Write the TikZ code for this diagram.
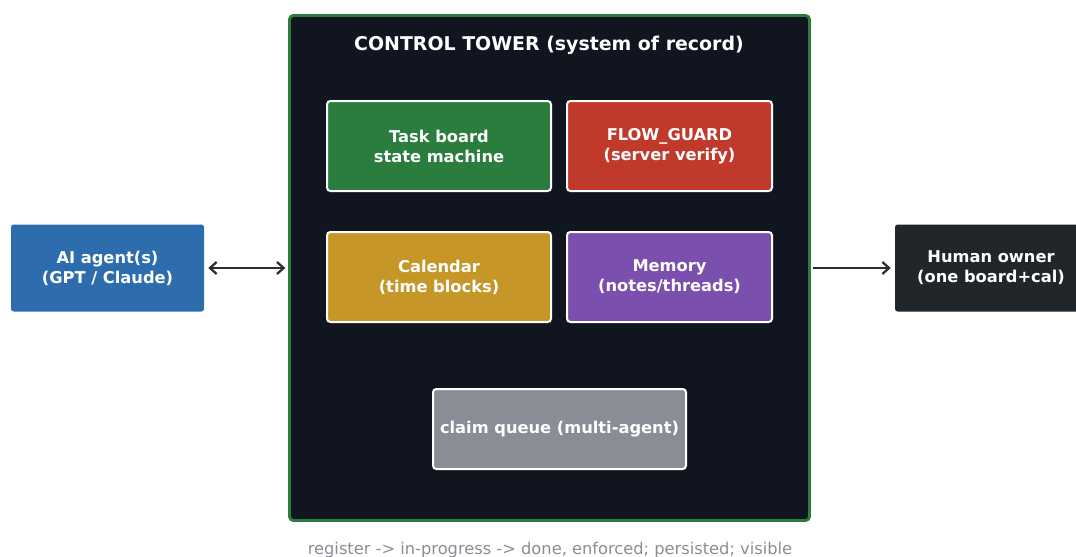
\documentclass[tikz,border=0pt]{standalone}
\usepackage{fontspec}
\setmainfont{DejaVu Sans}
\usetikzlibrary{arrows.meta}
\definecolor{towerfill}{HTML}{111520}
\definecolor{towergreen}{HTML}{2A7D3B}
\definecolor{taskgreen}{HTML}{2A7D3C}
\definecolor{flowred}{HTML}{C0392B}
\definecolor{calgold}{HTML}{C79628}
\definecolor{mempurple}{HTML}{7B4FAE}
\definecolor{claimgray}{HTML}{8A8D96}
\definecolor{aiblue}{HTML}{2E6DAD}
\definecolor{humandark}{HTML}{21262B}
\definecolor{arrowdark}{HTML}{2B2F33}
\definecolor{notegray}{HTML}{8A8D93}
\tikzset{
  inner/.style={draw=white, line width=1.5pt, rounded corners=2.5pt, text=white,
    font=\bfseries\fontsize{12.2pt}{15pt}\selectfont, align=center, inner sep=0pt},
  outer/.style={rounded corners=2pt, text=white,
    font=\bfseries\fontsize{12.2pt}{15pt}\selectfont, align=center, inner sep=0pt},
  conn/.style={draw=arrowdark, line width=1.7pt, -{Straight Barb[length=5pt,width=9pt,line width=1.7pt]}},
}
\begin{document}
\begin{tikzpicture}[x=0.75pt,y=-0.75pt]
\useasboundingbox (0,0) rectangle (1076,557);
\node[draw=towergreen, fill=towerfill, line width=2.2pt, rounded corners=3pt,
  minimum width=520*0.75pt, minimum height=505*0.75pt, inner sep=0pt] (tower) at (549.5,268) {};
\node[text=white, font=\bfseries\fontsize{14.2pt}{17pt}\selectfont] (title) at (549,45) {CONTROL TOWER (system of record)};
\node[inner, fill=taskgreen, minimum width=224*0.75pt, minimum height=90*0.75pt] (task) at (439,146) {Task board\\state machine};
\node[inner, fill=flowred, minimum width=205*0.75pt, minimum height=90*0.75pt] (flow) at (669.5,146) {FLOW\_GUARD\\(server verify)};
\node[inner, fill=calgold, minimum width=224*0.75pt, minimum height=90*0.75pt] (cal) at (439,277) {Calendar\\(time blocks)};
\node[inner, fill=mempurple, minimum width=205*0.75pt, minimum height=90*0.75pt] (mem) at (669.5,277) {Memory\\(notes/threads)};
\node[inner, fill=claimgray, minimum width=253*0.75pt, minimum height=80*0.75pt] (claim) at (559.5,429) {claim queue (multi-agent)};
\node[outer, fill=aiblue, minimum width=193*0.75pt, minimum height=87*0.75pt] (ai) at (107.5,268) {AI agent(s)\\(GPT / Claude)};
\node[outer, fill=humandark, minimum width=192*0.75pt, minimum height=87*0.75pt] (human) at (991,268) {Human owner\\(one board+cal)};
\draw[conn, {Straight Barb[length=5pt,width=9pt,line width=1.7pt]}-{Straight Barb[length=5pt,width=9pt,line width=1.7pt]}, shorten <=3pt, shorten >=2pt] (ai.east) -- (tower.west);
\draw[conn, shorten <=1.5pt, shorten >=3pt] (tower.east) -- (human.west);
\node[text=notegray, font=\fontsize{12.2pt}{14pt}\selectfont] (note) at (550,550) {register -> in-progress -> done, enforced; persisted; visible};
\end{tikzpicture}
\end{document}
